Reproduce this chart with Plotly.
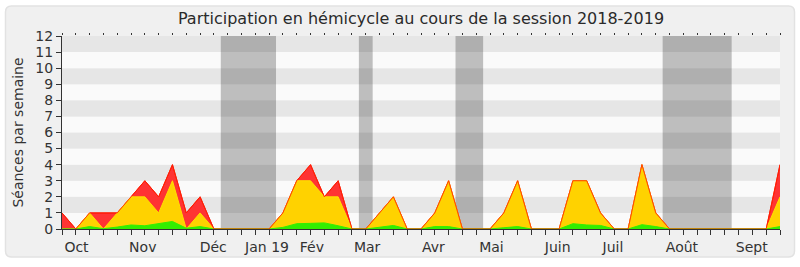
import plotly.graph_objects as go

# Week index (0 = first week of the session, ~24 Sept 2018)
weeks = list(range(53))

# Séances par semaine (présences en hémicycle) - red
presences = [1, 0, 1, 1, 1, 2, 3, 2, 4, 1, 2, 0, 0, 0, 0, 0, 1, 3, 4, 2, 3, 0,
             0, 1, 2, 0, 0, 1, 3, 0, 0, 0, 1, 3, 0, 0, 0, 3, 3, 1, 0, 0, 4, 1,
             0, 0, 0, 0, 0, 0, 0, 0, 4]
# interventions - yellow
interventions = [0, 0, 1, 0, 1, 2, 2, 1, 3, 0, 1, 0, 0, 0, 0, 0, 1, 3, 3, 2, 2, 0,
                 0, 1, 2, 0, 0, 1, 3, 0, 0, 0, 1, 3, 0, 0, 0, 3, 3, 1, 0, 0, 4, 1,
                 0, 0, 0, 0, 0, 0, 0, 0, 2]
# questions / faible part - green
questions = [0, 0, 0.15, 0.02, 0.12, 0.25, 0.2, 0.33, 0.47, 0.05, 0.15, 0, 0, 0, 0, 0,
             0.1, 0.33, 0.35, 0.38, 0.2, 0, 0, 0.1, 0.22, 0, 0, 0.15, 0.15, 0, 0, 0,
             0.08, 0.15, 0, 0, 0, 0.33, 0.25, 0.22, 0, 0, 0.27, 0.15, 0, 0, 0, 0,
             0, 0, 0, 0, 0.15]

# Vacances parlementaires (week index boundaries)
vac_start = [11.5, 21.5, 28.5, 43.5]
vac_end = [15.5, 22.5, 30.5, 48.5]

# Month labels
month_pos = [1.05, 5.85, 10.95, 14.85, 18.1, 22.1, 26.9, 31.1, 35.9, 39.9, 44.9, 49.95]
month_txt = ["Oct", "Nov", "Déc", "Jan 19", "Fév", "Mar", "Avr", "Mai", "Juin",
             "Juil", "Août", "Sept"]

y_max = 12
FONT = "DejaVu Sans"
TXT = "#333333"

W, H = 800, 267
L, R, T, B = 62, 20, 36, 34
pw, ph = W - L - R, H - T - B

fig = go.Figure()
fig.add_trace(go.Scatter(x=weeks, y=presences, mode="lines", fill="tozeroy",
                         fillcolor="#ff3333", line=dict(color="#ff0000", width=1),
                         hoverinfo="skip", showlegend=False))
fig.add_trace(go.Scatter(x=weeks, y=interventions, mode="lines", fill="tozeroy",
                         fillcolor="#ffd200", line=dict(color="#ffe000", width=1),
                         hoverinfo="skip", showlegend=False))
fig.add_trace(go.Scatter(x=weeks, y=questions, mode="lines", fill="tozeroy",
                         fillcolor="#33ee00", line=dict(color="#33ee00", width=1),
                         hoverinfo="skip", showlegend=False))
fig.add_trace(go.Scatter(x=weeks, y=presences, mode="lines", xaxis="x2",
                         line=dict(color="rgba(255,40,0,0.85)", width=1),
                         hoverinfo="skip", showlegend=False))

shapes = []
# rounded panel (page decoration) in paper coords
def px2x(p):
    return (p - L) / pw
def py2y(p):
    return (H - B - p) / ph
x0, x1, y0, y1, r = 5.5, 794.5, 5.5, 261.5, 6
path = (f"M {px2x(x0 + r)},{py2y(y0)} L {px2x(x1 - r)},{py2y(y0)} "
        f"Q {px2x(x1)},{py2y(y0)} {px2x(x1)},{py2y(y0 + r)} "
        f"L {px2x(x1)},{py2y(y1 - r)} Q {px2x(x1)},{py2y(y1)} {px2x(x1 - r)},{py2y(y1)} "
        f"L {px2x(x0 + r)},{py2y(y1)} Q {px2x(x0)},{py2y(y1)} {px2x(x0)},{py2y(y1 - r)} "
        f"L {px2x(x0)},{py2y(y0 + r)} Q {px2x(x0)},{py2y(y0)} {px2x(x0 + r)},{py2y(y0)} Z")
shapes.append(dict(type="path", path=path, xref="paper", yref="paper", layer="below",
                   fillcolor="#f0f0f0", line=dict(color="#e2e2e2", width=1.5)))
# stripes
for v in range(0, y_max):
    shapes.append(dict(type="rect", xref="x domain", yref="y", x0=0, x1=1, y0=v, y1=v + 1,
                       layer="below", fillcolor="#e6e6e6" if v % 2 else "#fafafa",
                       line=dict(width=0)))
# vacations
for s, e in zip(vac_start, vac_end):
    shapes.append(dict(type="rect", xref="x", yref="y domain", x0=s, x1=e, y0=0, y1=1,
                       layer="below", fillcolor="rgba(0,0,0,0.24)", line=dict(width=0)))

fig.update_layout(
    width=W, height=H,
    margin=dict(l=L, r=R, t=T, b=B, pad=0),
    paper_bgcolor="white", plot_bgcolor="#fafafa",
    font=dict(family=FONT, size=14, color=TXT),
    title=dict(text="Participation en hémicycle au cours de la session 2018-2019",
               x=0.5, xref="paper", y=1 - 18 / H, yref="container", yanchor="middle",
               xanchor="center", font=dict(family=FONT, size=16, color="#2a2a2a")),
    shapes=shapes,
    xaxis=dict(range=[0, 52], showgrid=False, zeroline=False,
               tickmode="array", tickvals=month_pos, ticktext=month_txt,
               ticks="outside", ticklen=5, tickcolor="rgba(0,0,0,0)",
               tickfont=dict(family=FONT, size=14, color=TXT),
               showline=True, linecolor="#333333", linewidth=1,
               minor=dict(tick0=0, dtick=1, ticks="outside", ticklen=5,
                          tickcolor="#333333", tickwidth=1, showgrid=False),
               fixedrange=True),
    xaxis2=dict(range=[0, 52], overlaying="x", side="top", showgrid=False,
                zeroline=False, tickmode="linear", tick0=0, dtick=1,
                ticks="outside", ticklen=2, tickcolor="#333333",
                showticklabels=False, showline=False, fixedrange=True),
    yaxis=dict(range=[0, y_max], showgrid=False, zeroline=False,
               tickmode="linear", tick0=0, dtick=1, ticks="outside", ticklen=5,
               tickcolor="#333333", showline=True, linecolor="#333333", linewidth=1,
               tickfont=dict(family=FONT, size=14, color=TXT),
               title=dict(text="Séances par semaine", standoff=8,
                          font=dict(family=FONT, size=14, color=TXT)),
               fixedrange=True),
)

fig.write_html("out.html")
